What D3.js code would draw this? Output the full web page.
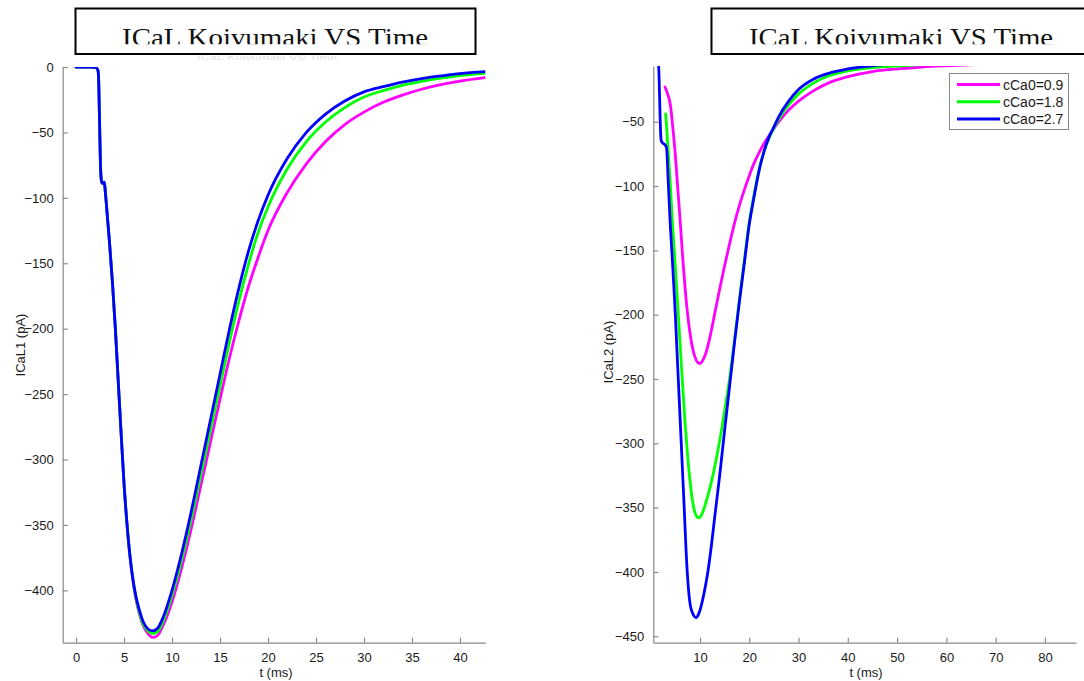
<!DOCTYPE html>
<html>
<head>
<meta charset="utf-8">
<script src="https://cdn.jsdelivr.net/npm/d3@7"></script>
<style>
  html, body { margin: 0; padding: 0; background: #fff; }
  svg { display: block; }
  .tick text { font-family: "Liberation Sans", Arial, sans-serif; font-size: 13px; fill: #1a1a1a; }
  .axis path, .axis line { stroke: #8a8a8a; stroke-width: 1.2; }
  .lbl { font-family: "Liberation Sans", Arial, sans-serif; font-size: 13px; fill: #1a1a1a; }
  .leg { font-family: "Liberation Sans", Arial, sans-serif; font-size: 14px; fill: #1a1a1a; }
</style>
</head>
<body>
<svg id="fig" width="1084" height="681"></svg>
<script>
// ---- series names and colours ----
const seriesNames = ["cCa0=0.9", "cCao=1.8", "cCao=2.7"];
const seriesColors = ["#ff00ff", "#00ff00", "#0000ff"];

// ---- left panel: ICaL1 (pA) vs t (ms) ----
const leftTime = [0, 1.5, 2.1, 2.3, 2.35, 2.45, 2.55, 2.65, 2.75, 2.85, 2.95, 3.05, 3.2, 3.5, 3.8, 4.1, 4.4, 4.7, 5.0, 5.3, 5.6, 5.9, 6.2, 6.6, 7.0, 7.5, 8.0, 8.5, 9, 10, 11, 12, 13, 14, 15, 16, 17, 18, 19, 20, 22, 24, 26, 28, 30, 32, 34, 36, 38, 40, 42.6];
const leftMagenta = [0, 0, -0.5, -3, -8, -40, -75, -87, -89, -89, -88, -95, -108, -135, -165, -200, -240, -280, -318, -348, -373, -391, -405, -418, -427, -433, -436, -434.5, -428, -409, -383, -353, -320, -287, -254, -222, -193, -167, -145, -125, -96, -74, -57, -44, -34.5, -27, -21.5, -17, -13.5, -10.8, -8.2];
const leftGreen   = [0, 0, -0.5, -3, -8, -40, -75, -87, -89, -89, -88, -95, -108, -135, -165, -200, -240, -280, -318, -348, -372, -390, -404, -417, -426, -431, -433, -431.5, -425, -404, -377, -346, -312, -278, -244, -210, -178, -150, -126, -107, -78, -57, -42, -31, -23, -18, -14, -11, -8.5, -6.5, -4.8];
const leftBlue    = [0, 0, -0.5, -3, -8, -40, -75, -87, -89, -89, -88, -95, -108, -135, -165, -200, -240, -280, -318, -348, -372, -390, -403, -415, -424, -429.5, -431, -429, -422, -400, -372, -340, -305, -270, -235, -200, -168, -140, -117, -98, -70, -50, -36, -26, -19, -15, -11.5, -8.8, -6.8, -5, -3.5];
const leftXTicks = [0, 5, 10, 15, 20, 25, 30, 35, 40];
const leftYTicks = [0, -50, -100, -150, -200, -250, -300, -350, -400];

// ---- right panel: ICaL2 (pA) vs t (ms) ----
const rightTimeMagenta = [2.9, 3.4, 4.0, 4.5, 5.0, 5.5, 6.0, 6.5, 7.0, 7.5, 8.0, 8.5, 9.0, 9.5, 10.0, 10.5, 11.0, 12, 13, 14, 15, 16, 17, 18, 19, 20, 21, 22, 23, 24, 26, 28, 30, 33, 36, 40, 45, 50, 55, 60, 70, 86];
const rightMagenta = [-23, -28, -37, -55, -76, -102, -128, -156, -180, -200, -215, -226, -233, -237, -238, -236, -232, -218, -199, -180, -162, -145, -129, -115, -103, -92, -82, -74, -67, -61, -50, -41, -34, -26, -20, -15, -11, -9, -7.5, -6.5, -5, -4];
const rightTimeGreen = [3.04, 3.3, 3.6, 4.0, 4.4, 4.8, 5.2, 5.6, 6.0, 6.5, 7.0, 7.5, 8.0, 8.5, 9.0, 9.7, 10.4, 11.2, 12, 13, 14, 15, 16, 17, 18, 19, 20, 21, 22, 23, 24, 25, 26, 28, 30, 33, 36, 40, 45, 51, 60, 86];
const rightGreen = [-44, -58, -76, -100, -128, -151, -175, -200, -225, -256, -285, -310, -330, -345, -354, -358, -355, -346, -335, -318, -298, -275, -250, -220, -188, -158, -128, -106, -87, -73, -63, -55, -48, -37, -28.5, -20, -14.5, -10.5, -8, -6.5, -4.8, -2.5];
const rightTimeBlue = [1.5, 1.7, 1.9, 2.1, 2.3, 2.6, 2.9, 3.2, 3.6, 4.0, 4.3, 4.7, 5.0, 5.3, 5.6, 5.9, 6.2, 6.5, 6.8, 7.2, 7.6, 8.0, 8.5, 9.2, 9.8, 10.4, 11.0, 11.6, 12.3, 13, 14, 15, 16, 17, 18, 19, 20, 21, 22, 23, 24, 25, 26, 28, 30, 33, 36, 40, 45, 50, 60, 86];
const rightBlue = [0, -15, -45, -64, -66, -67, -68, -70, -100, -132, -151, -178, -200, -225, -250, -275, -300, -325, -350, -385, -410, -425, -432, -435.5, -432, -424, -413, -400, -380, -357, -325, -290, -256, -222, -190, -160, -130, -108, -88, -73, -62, -54, -46, -34, -25, -17, -12.5, -9, -6.5, -5, -3.5, -2];
const rightXTicks = [10, 20, 30, 40, 50, 60, 70, 80];
const rightYTicks = [-50, -100, -150, -200, -250, -300, -350, -400, -450];

const titleText = "ICaL Koivumaki VS Time";

const svg = d3.select("#fig");
const defs = svg.append("defs");

function panel(cfg) {
  const x = d3.scaleLinear().domain(cfg.xDomain).range([cfg.left, cfg.right]);
  const y = d3.scaleLinear().domain(cfg.yDomain).range([cfg.bottom, cfg.top]);
  const g = svg.append("g");

  defs.append("clipPath").attr("id", cfg.id + "-clip")
    .append("rect")
    .attr("x", cfg.left).attr("y", cfg.top)
    .attr("width", cfg.right - cfg.left).attr("height", cfg.bottom - cfg.top);

  // axes with inward ticks
  g.append("g").attr("class", "axis")
    .attr("transform", `translate(0,${cfg.bottom})`)
    .call(d3.axisBottom(x).tickValues(cfg.xTicks).tickSizeInner(-5).tickSizeOuter(0).tickPadding(10))
    .call(s => s.selectAll(".tick text").attr("dy", "0.71em"));
  g.append("g").attr("class", "axis")
    .attr("transform", `translate(${cfg.left},0)`)
    .call(d3.axisLeft(y).tickValues(cfg.yTicks).tickSizeInner(-5).tickSizeOuter(0).tickPadding(9));

  // axis titles
  g.append("text").attr("class", "lbl")
    .attr("x", (cfg.xLabelX)).attr("y", cfg.bottom + 34)
    .attr("text-anchor", "middle").text("t (ms)");
  g.append("text").attr("class", "lbl")
    .attr("transform", `translate(${cfg.yLabelX},${cfg.yLabelY}) rotate(-90)`)
    .attr("text-anchor", "middle").text(cfg.yLabel);

  // curves
  const plot = g.append("g").attr("clip-path", `url(#${cfg.id}-clip)`);
  cfg.series.forEach((s, i) => {
    const pts = s.t.map((t, k) => [t, s.v[k]]);
    plot.append("path")
      .datum(pts)
      .attr("fill", "none")
      .attr("stroke", seriesColors[i])
      .attr("stroke-width", 2.8)
      .attr("stroke-linejoin", "round")
      .attr("stroke-linecap", "round")
      .attr("d", d3.line().x(d => x(d[0])).y(d => y(d[1])).curve(d3.curveMonotoneX));
  });
  return { x, y, g };
}

// left panel
panel({
  id: "p1", left: 62.7, right: 485.3, top: 67, bottom: 642.7,
  xDomain: [-1.385, 42.64], yDomain: [-440, 0],
  xTicks: leftXTicks, yTicks: leftYTicks,
  yLabel: "ICaL1 (pA)", yLabelX: 25, yLabelY: 345, xLabelX: 276,
  series: [
    { t: leftTime, v: leftMagenta },
    { t: leftTime, v: leftGreen },
    { t: leftTime, v: leftBlue }
  ]
});

// right panel
panel({
  id: "p2", left: 653.3, right: 1076, top: 66, bottom: 642.7,
  xDomain: [0.53, 86.3], yDomain: [-455, -6.7],
  xTicks: rightXTicks, yTicks: rightYTicks,
  yLabel: "ICaL2 (pA)", yLabelX: 613, yLabelY: 352, xLabelX: 866,
  series: [
    { t: rightTimeMagenta, v: rightMagenta },
    { t: rightTimeGreen, v: rightGreen },
    { t: rightTimeBlue, v: rightBlue }
  ]
});

// faint title peeking out below the left title box
defs.append("clipPath").attr("id", "faint-clip")
  .append("rect").attr("x", 150).attr("y", 55.5).attr("width", 250).attr("height", 10);
svg.append("text")
  .attr("x", 197).attr("y", 60)
  .attr("textLength", 140).attr("lengthAdjust", "spacingAndGlyphs")
  .attr("clip-path", "url(#faint-clip)")
  .style("font-family", "Liberation Sans, Arial, sans-serif")
  .style("font-size", "8px")
  .attr("fill", "#e2e2e2").text(titleText);

// title boxes
function titleBox(id, bx, bw, tx, tw) {
  svg.append("rect")
    .attr("x", bx).attr("y", 8.5).attr("width", bw).attr("height", 45.5)
    .attr("fill", "#fff").attr("stroke", "#000").attr("stroke-width", 2);
  defs.append("clipPath").attr("id", id)
    .append("rect").attr("x", bx).attr("y", 10).attr("width", bw).attr("height", 34.3);
  svg.append("text")
    .attr("x", tx).attr("y", 46)
    .attr("clip-path", `url(#${id})`)
    .attr("textLength", tw).attr("lengthAdjust", "spacingAndGlyphs")
    .style("font-family", "Liberation Serif, 'DejaVu Serif', serif")
    .style("font-size", "26px")
    .attr("fill", "#111").text(titleText);
}
titleBox("tb1", 75.5, 400, 122, 306);
titleBox("tb2", 711.5, 400, 749, 304);

// legend on the right panel
const lg = svg.append("g");
lg.append("rect").attr("x", 949.5).attr("y", 73.5).attr("width", 119).attr("height", 56)
  .attr("fill", "#fff").attr("stroke", "#8a8a8a").attr("stroke-width", 1);
const rowY = d3.scalePoint().domain(seriesNames).range([84.5, 119]);
seriesNames.forEach((n, i) => {
  lg.append("line").attr("x1", 957).attr("x2", 1000)
    .attr("y1", rowY(n)).attr("y2", rowY(n))
    .attr("stroke", seriesColors[i]).attr("stroke-width", 2.8);
  lg.append("text").attr("class", "leg").attr("x", 1003).attr("y", rowY(n) + 5).text(n);
});
</script>
</body>
</html>
